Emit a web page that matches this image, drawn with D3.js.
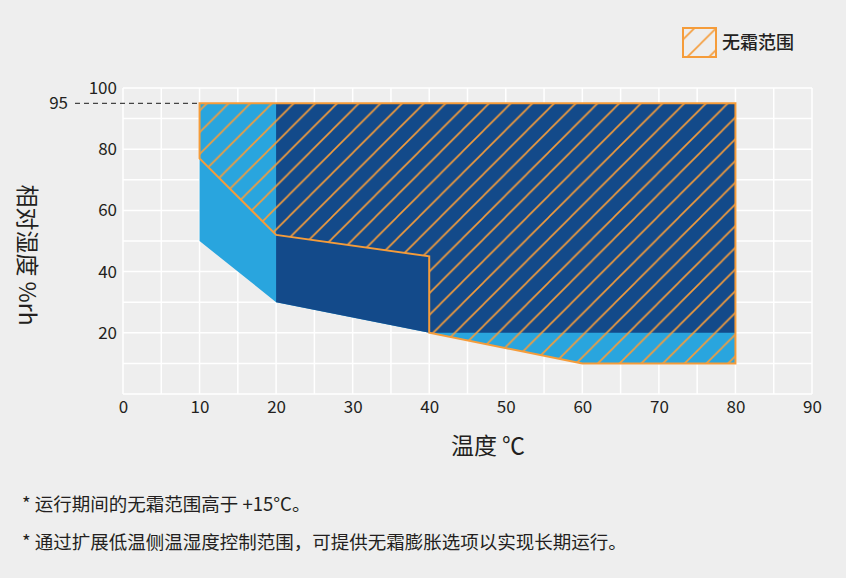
<!DOCTYPE html>
<html>
<head>
<meta charset="utf-8">
<script src="https://cdn.jsdelivr.net/npm/d3@7"></script>
<style>
  html, body { margin: 0; padding: 0; background: #eeeeee; }
  svg { display: block; font-family: "Noto Sans CJK SC", "Noto Sans", sans-serif; }
</style>
</head>
<body>
<svg id="chart" width="846" height="578"></svg>
<script>
// ---- data ----
const xTicks = [0, 10, 20, 30, 40, 50, 60, 70, 80, 90];
const yTicks = [20, 40, 60, 80, 100];
const markerValue = 95;
// [temperature °C, relative humidity %rh]
const lightRegion = [[10, 95], [80, 95], [80, 10], [60, 10], [40, 20], [20, 30], [10, 50]];
const darkRegion = [[20, 95], [80, 95], [80, 20], [40, 20], [20, 30]];
const frostFreeRegion = [[10, 95], [80, 95], [80, 10], [60, 10], [40, 20], [40, 45], [20, 52], [10, 77]];
const legendLabel = "无霜范围";
const xTitle = "温度 ℃";
const yTitle = "相对湿度 %rh";
const notes = [
  "* 运行期间的无霜范围高于 +15°C。",
  "* 通过扩展低温侧温湿度控制范围，可提供无霜膨胀选项以实现长期运行。"
];

// ---- styles ----
const C = {
  bg: "#eeeeee", grid: "#ffffff", light: "#29a5de", dark: "#134a8a",
  orange: "#f59c3a", text: "#231f20"
};

const svg = d3.select("#chart");
const x = d3.scaleLinear().domain([0, 90]).range([123, 812]);
const y = d3.scaleLinear().domain([0, 100]).range([394, 88]);

// hatch pattern
const defs = svg.append("defs");
const s = 21.7;
const pat = defs.append("pattern")
  .attr("id", "hatch").attr("patternUnits", "userSpaceOnUse")
  .attr("width", s).attr("height", s)
  .attr("patternTransform", "translate(6.5,0)");
pat.append("path")
  .attr("d", `M${-s},${s} L${s},${-s} M0,${s} L${s},0 M0,${2 * s} L${2 * s},0`)
  .attr("stroke", C.orange).attr("stroke-width", 1.6).attr("fill", "none");

// grid
const g = svg.append("g");
g.selectAll("line.v").data(d3.range(0, 91, 5)).join("line")
  .attr("x1", d => x(d)).attr("x2", d => x(d))
  .attr("y1", y(0)).attr("y2", y(100))
  .attr("stroke", C.grid).attr("stroke-width", 1.5);
g.selectAll("line.h").data(d3.range(0, 101, 10)).join("line")
  .attr("x1", x(0)).attr("x2", x(90))
  .attr("y1", d => y(d)).attr("y2", d => y(d))
  .attr("stroke", C.grid).attr("stroke-width", 1.5);

const line = d3.line().x(d => x(d[0])).y(d => y(d[1])).curve(d3.curveLinearClosed);

svg.append("path").attr("d", line(lightRegion)).attr("fill", C.light);
svg.append("path").attr("d", line(darkRegion)).attr("fill", C.dark);
svg.append("path").attr("d", line(frostFreeRegion))
  .attr("fill", "url(#hatch)").attr("stroke", C.orange)
  .attr("stroke-width", 2).attr("stroke-linejoin", "miter");

// axes
const xAxis = svg.append("g").attr("transform", `translate(0,${y(0)})`)
  .call(d3.axisBottom(x).tickValues(xTicks).tickSize(0).tickPadding(7));
const yAxis = svg.append("g").attr("transform", `translate(${x(0)},0)`)
  .call(d3.axisLeft(y).tickValues(yTicks).tickSize(0).tickPadding(6));
[xAxis, yAxis].forEach(a => {
  a.select(".domain").remove();
  a.selectAll("text").attr("fill", C.text).attr("font-size", 17)
    .attr("font-family", '"Noto Sans CJK SC", "Noto Sans", sans-serif');
});

// 95 marker
svg.append("line")
  .attr("x1", 75).attr("x2", x(10))
  .attr("y1", y(markerValue)).attr("y2", y(markerValue))
  .attr("stroke", "#444").attr("stroke-width", 1.3).attr("stroke-dasharray", "5,4");
svg.append("text").attr("x", 68).attr("y", y(markerValue)).attr("dy", "0.35em")
  .attr("text-anchor", "end").attr("font-size", 17).attr("fill", C.text).text(markerValue);

// titles
svg.append("text").attr("x", 488).attr("y", 446).attr("dy", "0.35em")
  .attr("text-anchor", "middle").attr("font-size", 23).attr("fill", C.text).text(xTitle);
svg.append("text").attr("transform", `translate(19,255) rotate(90)`)
  .attr("text-anchor", "middle").attr("font-size", 23).attr("fill", C.text).text(yTitle);

// legend
svg.append("rect").attr("x", 683).attr("y", 28).attr("width", 33).attr("height", 29)
  .attr("fill", "url(#hatch)").attr("stroke", C.orange).attr("stroke-width", 2);
svg.append("text").attr("x", 722).attr("y", 43).attr("dy", "0.35em")
  .attr("font-size", 18).attr("font-weight", 500).attr("fill", C.text).text(legendLabel);

// notes
svg.selectAll("text.note").data(notes).join("text").attr("class", "note")
  .attr("x", 22).attr("y", (d, i) => 505 + i * 38).attr("dy", "0.35em")
  .attr("font-size", 18.5).attr("fill", C.text).text(d => d);
</script>
</body>
</html>
